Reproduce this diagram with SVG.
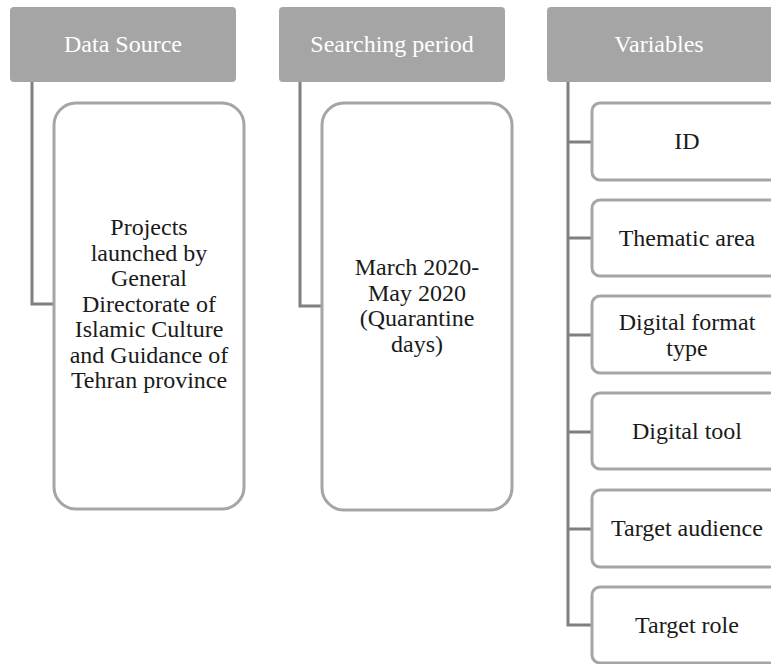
<svg xmlns="http://www.w3.org/2000/svg" width="771" height="664" viewBox="0 0 771 664">
<style>
.hdr{fill:#a5a5a5;}
.box{fill:#ffffff;stroke:#a5a5a5;stroke-width:3;}
.con{fill:none;stroke:#7f7f7f;stroke-width:3;}
</style>
<rect width="771" height="664" fill="#ffffff"/>
<g id="connectors">
<path class="con" d="M32,82 V304 H55"/>
<path class="con" d="M300,82 V306 H323"/>
<path class="con" d="M568,82 V625 H593"/>
<path class="con" d="M568,142 H593 M568,238 H593 M568,335 H593 M568,432 H593 M568,529 H593"/>
</g>
<g font-family="'Liberation Serif', serif" font-size="24" text-anchor="middle">
<g id="h1"><rect class="hdr" x="10" y="7" width="226" height="75" rx="4"/><text fill="#ffffff" x="123" y="52">Data Source</text></g>
<g id="h2"><rect class="hdr" x="279" y="7" width="226" height="75" rx="4"/><text fill="#ffffff" x="392" y="52">Searching period</text></g>
<g id="h3"><rect class="hdr" x="547" y="7" width="235" height="75" rx="4"/><text fill="#ffffff" x="659" y="52">Variables</text></g>
<g fill="#1a1a1a">
<g id="n1"><rect class="box" x="54" y="103" width="190" height="406" rx="22"/>
<text x="149" y="235">Projects</text>
<text x="149" y="260.5">launched by</text>
<text x="149" y="286">General</text>
<text x="149" y="311.5">Directorate of</text>
<text x="149" y="337">Islamic Culture</text>
<text x="149" y="362.5">and Guidance of</text>
<text x="149" y="388">Tehran province</text>
</g>
<g id="n2"><rect class="box" x="322" y="103" width="190" height="407" rx="22"/>
<text x="417" y="275">March 2020-</text>
<text x="417" y="300.5">May 2020</text>
<text x="417" y="326">(Quarantine</text>
<text x="417" y="351.5">days)</text>
</g>
<g id="v1"><rect class="box" x="592" y="103" width="200" height="77" rx="8"/><text x="687" y="149">ID</text></g>
<g id="v2"><rect class="box" x="592" y="200" width="200" height="76" rx="8"/><text x="687" y="246">Thematic area</text></g>
<g id="v3"><rect class="box" x="592" y="296" width="200" height="77" rx="8"/><text x="687" y="330">Digital format</text><text x="687" y="356">type</text></g>
<g id="v4"><rect class="box" x="592" y="393" width="200" height="76" rx="8"/><text x="687" y="439">Digital tool</text></g>
<g id="v5"><rect class="box" x="592" y="490" width="200" height="77" rx="8"/><text x="687" y="536">Target audience</text></g>
<g id="v6"><rect class="box" x="592" y="587" width="200" height="76" rx="8"/><text x="687" y="633">Target role</text></g>
</g>
</g>
</svg>
